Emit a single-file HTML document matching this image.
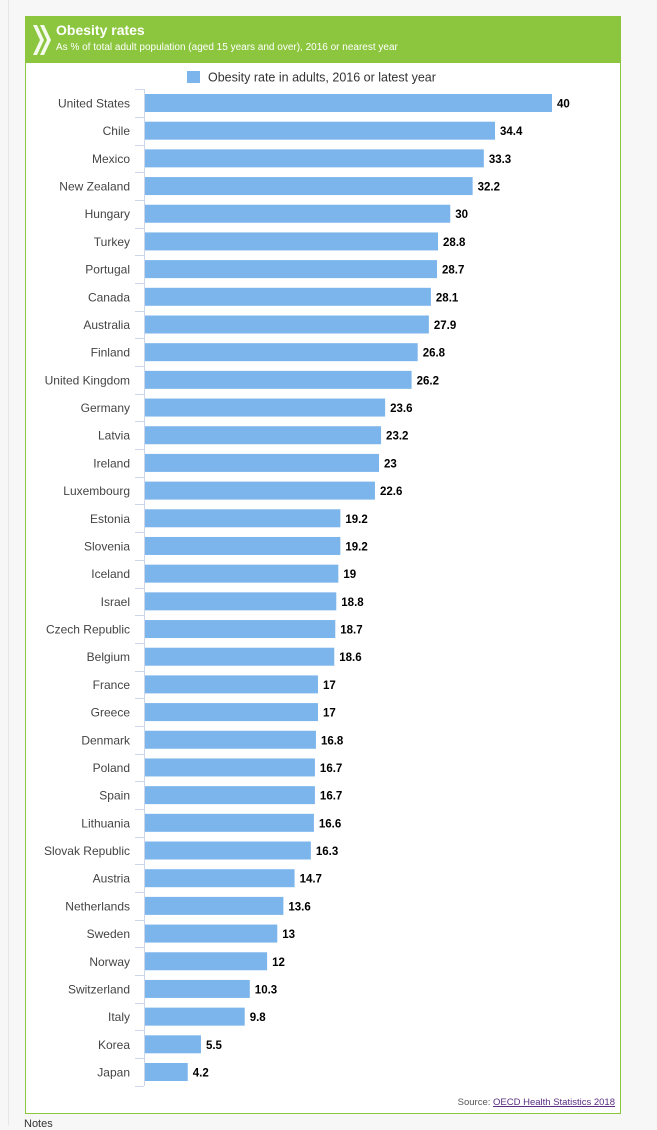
<!DOCTYPE html>
<html><head><meta charset="utf-8"><style>
body{margin:0;width:657px;height:1125px;background:#f7f7f7;font-family:"Liberation Sans","DejaVu Sans",sans-serif;position:relative;overflow:hidden}
#leftline{position:absolute;left:8px;top:0;width:1px;height:1125px;background:#e6e6e6}
#box{position:absolute;left:25px;top:16px;width:596px;height:1098px;background:#fff;border:1px solid #8cc63f;box-sizing:border-box}
#hdr{position:absolute;left:0;top:0;width:100%;height:46px;background:#8cc63f;color:#fff}
#title{position:absolute;left:30px;top:5px;font-weight:bold;font-size:14px}
#sub{position:absolute;left:30px;top:25px;font-size:10px}
#chev{position:absolute;left:5px;top:6px}
#src{position:absolute;right:5px;bottom:5px;font-size:9.5px;color:#555}
#src a{color:#5a2d82;text-decoration:underline}
#notes{position:absolute;left:24px;top:1118px;font-size:11px;color:#333}
</style></head><body>
<div id="leftline"></div>
<div id="box">
 <div id="hdr">
  <svg id="chev" width="22" height="34"><path d="M2 2 L9 17 L2 32 L6 32 L13 17 L6 2Z M9 2 L16 17 L9 32 L13 32 L20 17 L13 2Z" fill="#fff" opacity="0.9"/></svg>
  <div id="title">Obesity rates</div>
  <div id="sub">As % of total adult population (aged 15 years and over), 2016 or nearest year</div>
 </div>
 <div id="src">Source: <a>OECD Health Statistics 2018</a></div>
</div>
<div id="notes">Notes</div>
<svg id="chart" width="657" height="1125" style="position:absolute;left:0;top:0"></svg>
<script>
const categories=["United States","Chile","Mexico","New Zealand","Hungary","Turkey","Portugal","Canada","Australia","Finland","United Kingdom","Germany","Latvia","Ireland","Luxembourg","Estonia","Slovenia","Iceland","Israel","Czech Republic","Belgium","France","Greece","Denmark","Poland","Spain","Lithuania","Slovak Republic","Austria","Netherlands","Sweden","Norway","Switzerland","Italy","Korea","Japan"];
const values=[40,34.4,33.3,32.2,30,28.8,28.7,28.1,27.9,26.8,26.2,23.6,23.2,23,22.6,19.2,19.2,19,18.8,18.7,18.6,17,17,16.8,16.7,16.7,16.6,16.3,14.7,13.6,13,12,10.3,9.8,5.5,4.2];
const legendLabel="Obesity rate in adults, 2016 or latest year";
const svg=document.getElementById('chart');const NS="http://www.w3.org/2000/svg";
const x0=145,xScale=v=>x0+v*10.175;
const rowH=(1072-103)/35,yC=i=>103+i*rowH;
function mk(t,a){const e=document.createElementNS(NS,t);for(const k in a)e.setAttribute(k,a[k]);svg.appendChild(e);return e;}
let e=mk('rect',{x:187,y:71,width:13,height:12,fill:'#7cb5ec'});


e=mk('text',{x:208,y:81.5,'font-size':12.5,fill:'#333'});e.textContent=legendLabel;


e=mk('line',{x1:144.5,x2:144.5,y1:yC(0)-rowH/2,y2:yC(35)+rowH/2,stroke:'#ccd6eb'});


for(let i=0;i<=36;i++){const y=Math.round(yC(0)-rowH/2+i*rowH)+0.5;
 e=mk('line',{x1:135,x2:144,y1:y,y2:y,stroke:'#ccd6eb'});
 
 }
categories.forEach((c,i)=>{const y=yC(i);
 let t=mk('text',{x:130,y:y+4.5,'font-size':12,fill:'#444','text-anchor':'end'});t.textContent=c;
 
 
 let r=mk('rect',{x:x0,y:y-9,width:xScale(values[i])-x0,height:18,fill:'#7cb5ec'});
 
 
 let v=mk('text',{x:xScale(values[i])+5,y:y+4.5,'font-size':11.5,'font-weight':'bold',fill:'#000'});v.textContent=values[i];
 
 
});
</script>
</body></html>
